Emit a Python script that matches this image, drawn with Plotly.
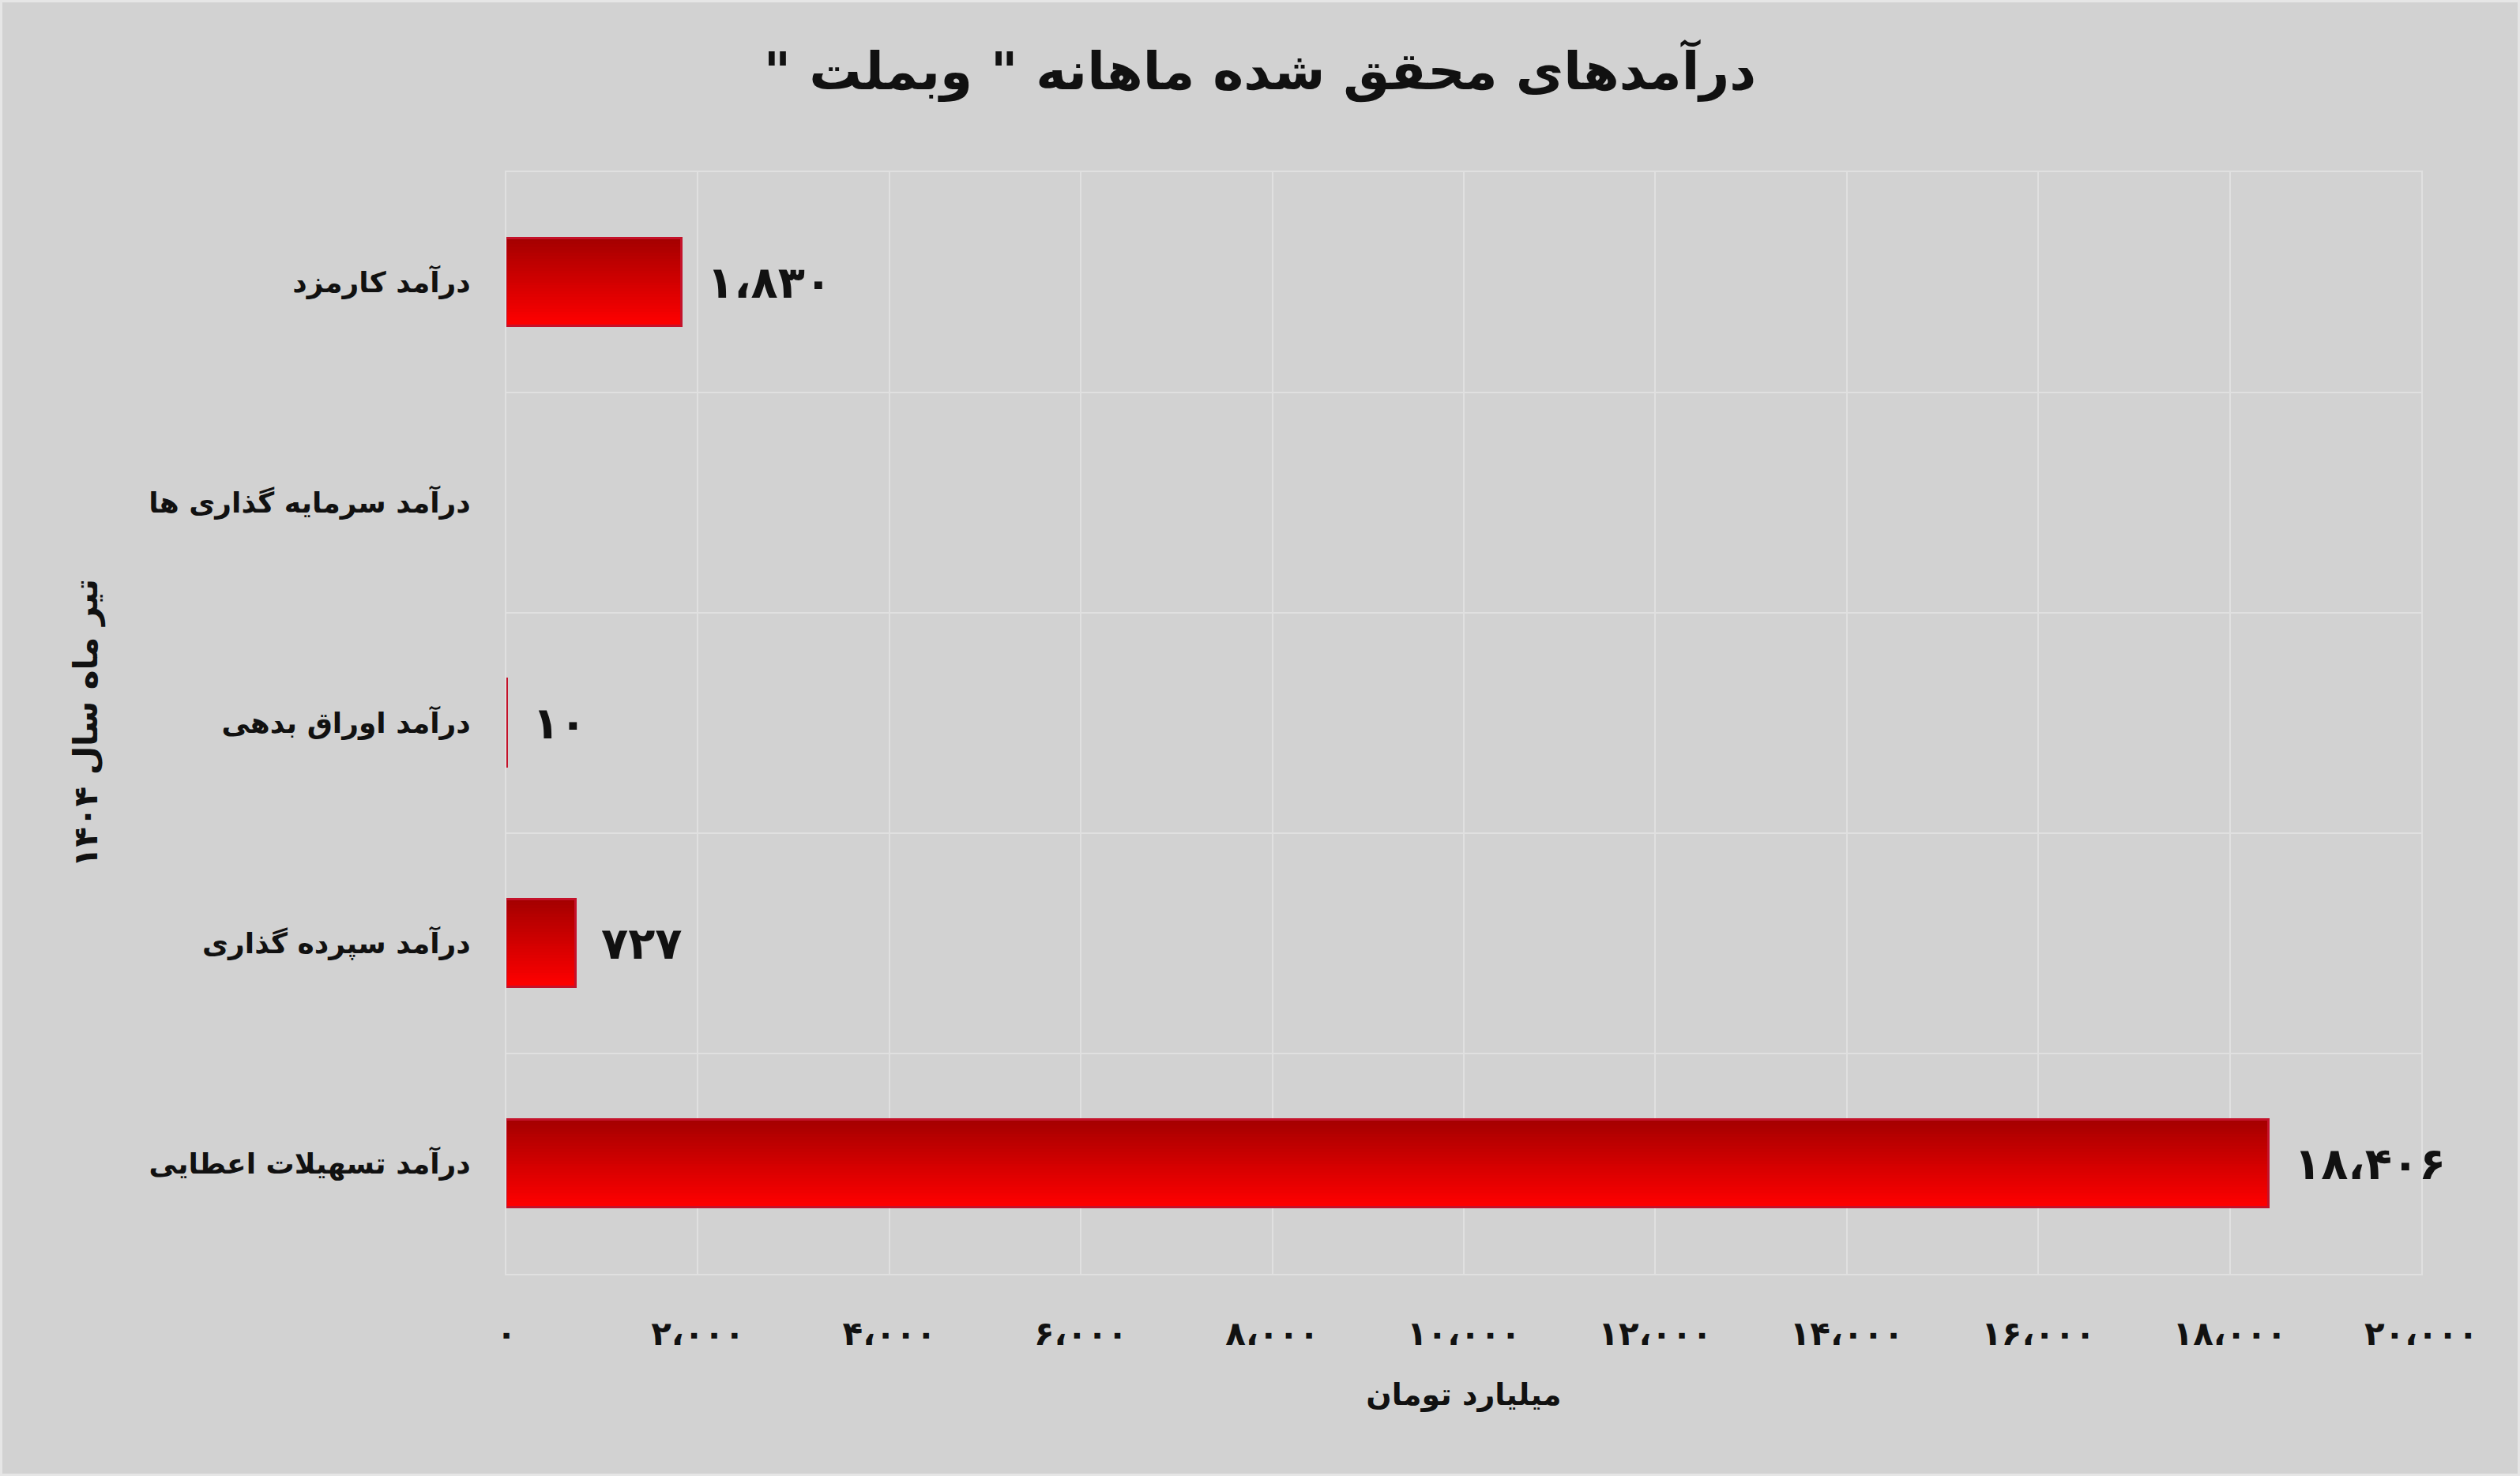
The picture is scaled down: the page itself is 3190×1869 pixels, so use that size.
import plotly.graph_objects as go

# data (top to bottom as shown)
categories = ["درآمد کارمزد", "درآمد سرمایه گذاری ها", "درآمد اوراق بدهی",
              "درآمد سپرده گذاری", "درآمد تسهیلات اعطایی"]
values = [1830, None, 10, 727, 18406]
value_labels = ["۱،۸۳۰", "", "۱۰", "۷۲۷", "۱۸،۴۰۶"]
x_ticks = [0, 2000, 4000, 6000, 8000, 10000, 12000, 14000, 16000, 18000, 20000]
x_tick_labels = ["۰", "۲،۰۰۰", "۴،۰۰۰", "۶،۰۰۰", "۸،۰۰۰", "۱۰،۰۰۰",
                 "۱۲،۰۰۰", "۱۴،۰۰۰", "۱۶،۰۰۰", "۱۸،۰۰۰", "۲۰،۰۰۰"]

# RLM marks keep the quotes in right-to-left order
title_text = '\u200fدرآمدهای محقق شده ماهانه " وبملت "\u200f'
x_title = "میلیارد تومان"
y_title = "تیر ماه سال ۱۴۰۴"

FONT = "DejaVu Sans"
BG = "#d2d2d2"
GRID = "#e0e0e0"

W, H = 3190, 1869
L, R, T, B = 641, 125, 218, 256

fig = go.Figure()

# gradient bars: thin strips stacked across the bar thickness
bar_w = 0.4
n = 30
top = (165, 0, 0)
bot = (255, 0, 0)
for i in range(n):
    f = i / (n - 1)
    c = tuple(round(top[k] + (bot[k] - top[k]) * f) for k in range(3))
    fig.add_trace(go.Bar(
        y=categories, x=values, orientation="h",
        width=bar_w / n + 0.002, offset=-bar_w / 2 + i * bar_w / n,
        marker=dict(color="rgb(%d,%d,%d)" % c, line=dict(width=0)),
        showlegend=False, hoverinfo="skip",
    ))

# outline
fig.add_trace(go.Bar(
    y=categories, x=values, orientation="h", width=bar_w, offset=-bar_w / 2,
    marker=dict(color="rgba(0,0,0,0)", line=dict(color="#c4122a", width=3)),
    showlegend=False,
))

annotations = []
for cat, v, lab in zip(categories, values, value_labels):
    if v is None:
        continue
    annotations.append(dict(
        x=v, y=cat, xref="x", yref="y", text=lab, showarrow=False,
        xanchor="left", yanchor="middle", xshift=30,
        font=dict(family=FONT, size=56, color="#111111", weight="bold"),
    ))

annotations.append(dict(
    x=(108 - L) / (W - L - R), y=0.5, xref="paper", yref="paper",
    text=y_title, textangle=-90, showarrow=False,
    xanchor="center", yanchor="middle",
    font=dict(family=FONT, size=42, color="#111111", weight="bold"),
))

fig.update_layout(
    width=W, height=H,
    margin=dict(l=L, r=R, t=T, b=B),
    paper_bgcolor=BG, plot_bgcolor=BG,
    barmode="overlay", bargap=0,
    title=dict(text=title_text, x=0.5, xref="container", xanchor="center",
               y=1 - 90 / H, yanchor="middle",
               font=dict(family=FONT, size=66, color="#111111", weight="bold")),
    annotations=annotations,
    shapes=[dict(type="rect", xref="paper", yref="paper",
                 x0=-L / (W - L - R), x1=1 + R / (W - L - R),
                 y0=-B / (H - T - B), y1=1 + T / (H - T - B),
                 line=dict(color="#e6e6e6", width=6), layer="below")],
)

fig.update_xaxes(
    range=[0, 20000], tickvals=x_ticks, ticktext=x_tick_labels,
    showgrid=True, gridcolor=GRID, gridwidth=2, zeroline=False,
    showline=True, mirror=True, linecolor=GRID, linewidth=2,
    ticks="", ticklabelstandoff=38,
    tickfont=dict(family=FONT, size=42, color="#111111", weight="bold"),
    title=dict(text=x_title, standoff=40,
               font=dict(family=FONT, size=38, color="#111111", weight="bold")),
)

fig.update_yaxes(
    type="category", categoryorder="array", categoryarray=categories,
    autorange="reversed", tickson="boundaries",
    showgrid=True, gridcolor=GRID, gridwidth=2,
    showline=True, mirror=True, linecolor=GRID, linewidth=2,
    ticks="", ticklabelstandoff=36,
    tickfont=dict(family=FONT, size=36, color="#111111", weight="bold"),
)

fig.write_html("out.html", config={"displayModeBar": False},
               post_script="document.body.style.margin='0';")
